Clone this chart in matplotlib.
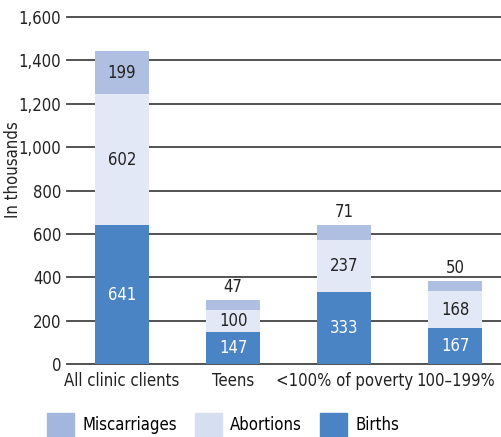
import matplotlib
matplotlib.use("Agg")
import matplotlib.pyplot as plt
from matplotlib.patches import Patch
import numpy as np

categories = ["All clinic clients", "Teens", "<100% of poverty", "100–199%"]
births = [641, 147, 333, 167]
abortions = [602, 100, 237, 168]
miscarriages = [199, 47, 71, 50]
yticks = [0, 200, 400, 600, 800, 1000, 1200, 1400, 1600]

c_births = "#4a84c4"
c_abort = "#e2e8f5"
c_misc = "#aebfe1"
plt.rcParams["font.family"] = ["DejaVu Sans"]
plt.rcParams["font.stretch"] = "condensed"

fig = plt.figure(figsize=(5.01, 4.37), dpi=100)
ax = fig.add_axes([0.1337, 0.167, 0.8663, 0.794])
x = np.arange(len(categories))
w = 0.486
b = np.array(births)
a = np.array(abortions)
m = np.array(miscarriages)
ax.bar(x, b, w, color=c_births, zorder=3)
ax.bar(x, a, w, bottom=b, color=c_abort, zorder=3)
ax.bar(x, m, w, bottom=b + a, color=c_misc, zorder=3)

fs = 12
for i in range(len(x)):
    ax.text(x[i], b[i] / 2, f"{b[i]}", ha="center", va="center", color="white", fontsize=fs, zorder=4)
    ax.text(x[i], b[i] + a[i] / 2, f"{a[i]}", ha="center", va="center", color="#222222", fontsize=fs, zorder=4)
    if i == 0:
        ax.text(x[i], b[i] + a[i] + m[i] / 2, f"{m[i]}", ha="center", va="center", color="#222222", fontsize=fs, zorder=4)
    else:
        ax.text(x[i], b[i] + a[i] + m[i] + 18, f"{m[i]}", ha="center", va="bottom", color="#222222", fontsize=fs, zorder=4)

ax.set_ylim(0, 1600)
ax.set_xlim(-0.495, 3.41)
ax.set_yticks(yticks)
ax.set_yticklabels([f"{v:,}" for v in yticks], fontsize=fs, color="#222222")
ax.set_xticks(x)
ax.set_xticklabels(categories, fontsize=fs, color="#222222")
ax.tick_params(axis="both", length=0, pad=4)
ax.tick_params(axis="x", pad=6)
for s in ax.spines.values():
    s.set_visible(False)
ax.yaxis.grid(True, color="#444444", linewidth=1.3, zorder=1)
ax.set_axisbelow(True)
for gl in ax.get_ygridlines():
    gl.set_clip_on(False)
ax.set_ylabel("In thousands", fontsize=fs, color="#222222")
ax.yaxis.set_label_coords(-0.104, 0.559)

handles = [Patch(color="#a3b6dd", label="Miscarriages"),
           Patch(color="#d6dff0", label="Abortions"),
           Patch(color=c_births, label="Births")]
fig.legend(handles=handles, loc="lower left", bbox_to_anchor=(0.094, 0.0), ncol=3,
           frameon=False, fontsize=fs, handlelength=1.62, handleheight=1.84,
           columnspacing=1.1, handletextpad=0.48, borderpad=0.0, borderaxespad=0.0)

fig.savefig("out.png", dpi=100)
